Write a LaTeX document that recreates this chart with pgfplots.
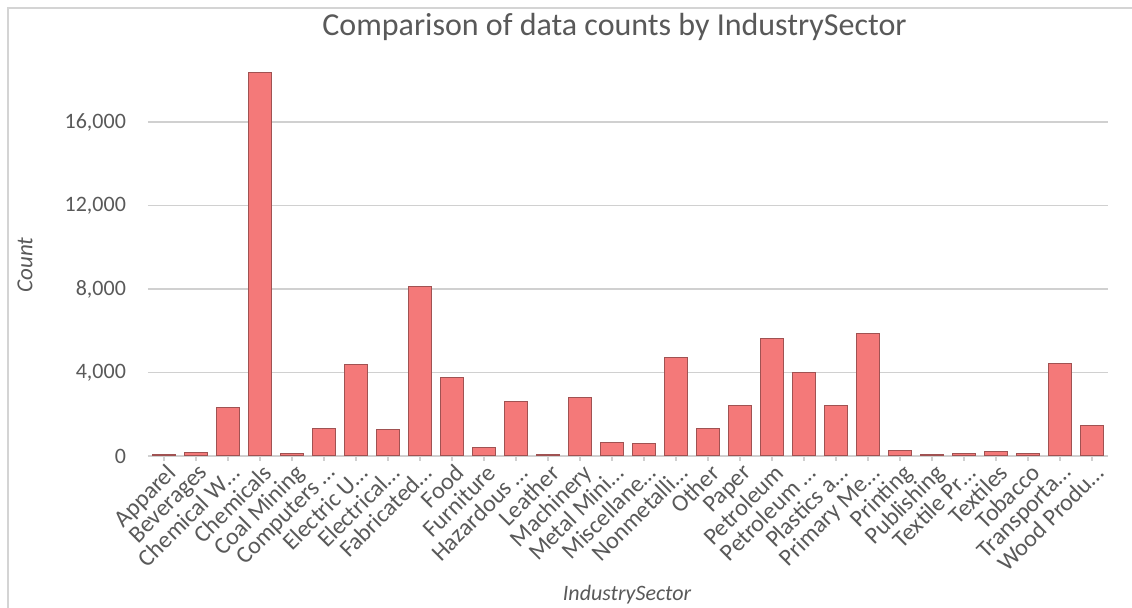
\documentclass[border=0pt]{standalone}
\usepackage{pgfplots}
\pgfplotsset{compat=1.18}
\usepackage{fontspec}
\setmainfont{Carlito}
\definecolor{txt}{RGB}{89,89,89}
\definecolor{barfill}{RGB}{244,121,121}
\definecolor{baredge}{RGB}{160,82,82}
\definecolor{gridc}{RGB}{208,208,208}
\definecolor{framec}{RGB}{212,212,212}
\begin{document}
\begin{tikzpicture}
\path[use as bounding box] (0,0) rectangle (566pt,304pt);
\draw[framec, line width=0.9pt] (4pt,0) -- (4pt,300pt) -- (566pt,300pt);
\begin{axis}[
  at={(74pt,76pt)}, anchor=south west,
  scale only axis, width=480pt, height=208.75pt,
  xmin=-0.5, xmax=29.5, ymin=0, ymax=20000,
  axis line style={draw=none},
  ybar, bar width=11.75pt,
  xtick=data,
  xticklabels={Apparel, Beverages, Chemical W…, Chemicals, Coal Mining, Computers …, Electric U…, Electrical…, Fabricated…, Food, Furniture, Hazardous …, Leather, Machinery, Metal Mini…, Miscellane…, Nonmetalli…, Other, Paper, Petroleum, Petroleum …, Plastics a…, Primary Me…, Printing, Publishing, Textile Pr…, Textiles, Tobacco, Transporta…, Wood Produ…},
  x tick label style={rotate=45, anchor=north east, font=\fontsize{12}{13}\selectfont, text=txt, inner sep=1pt, xshift=1pt},
  xtick pos=bottom, tick align=outside, major tick length=2.5pt,
  x tick style={draw=gridc, line width=0.6pt},
  ytick={0,4000,8000,12000,16000},
  scaled y ticks=false,
  y tick style={draw=none},
  y tick label style={font=\fontsize{11}{12}\selectfont, text=txt, xshift=-5pt},
  /pgf/number format/assume math mode=true,
  yticklabel={\pgfmathprintnumber[1000 sep={,}]{\tick}},
  ymajorgrids, grid style={draw=gridc, line width=0.8pt},
  every axis title shift=0pt,
  title={Comparison of data counts by IndustrySector},
  title style={at={(axis description cs:0.486,1.0275)}, anchor=center, font=\fontsize{16}{18}\selectfont, text=txt},
  xlabel={IndustrySector},
  xlabel style={at={(axis description cs:0.499,-0.333)}, anchor=center, font=\fontsize{11}{12}\selectfont\itshape, text=txt},
  ylabel={Count},
  ylabel style={at={(axis description cs:-0.128,0.4575)}, anchor=center, rotate=0, font=\fontsize{11.5}{12}\selectfont\itshape, text=txt},
  clip=false,
]
\draw[gridc, line width=0.8pt] (axis cs:-0.5,0) -- (axis cs:29.5,0);
\addplot[fill=barfill, draw=baredge, line width=0.5pt] coordinates {
(0,50) (1,160) (2,2300) (3,18350) (4,130) (5,1330) (6,4400) (7,1245) (8,8110) (9,3770)
(10,420) (11,2600) (12,90) (13,2790) (14,660) (15,575) (16,4710) (17,1330) (18,2440) (19,5640)
(20,4010) (21,2410) (22,5880) (23,240) (24,50) (25,100) (26,200) (27,100) (28,4410) (29,1440)
};
\end{axis}
\end{tikzpicture}
\end{document}
